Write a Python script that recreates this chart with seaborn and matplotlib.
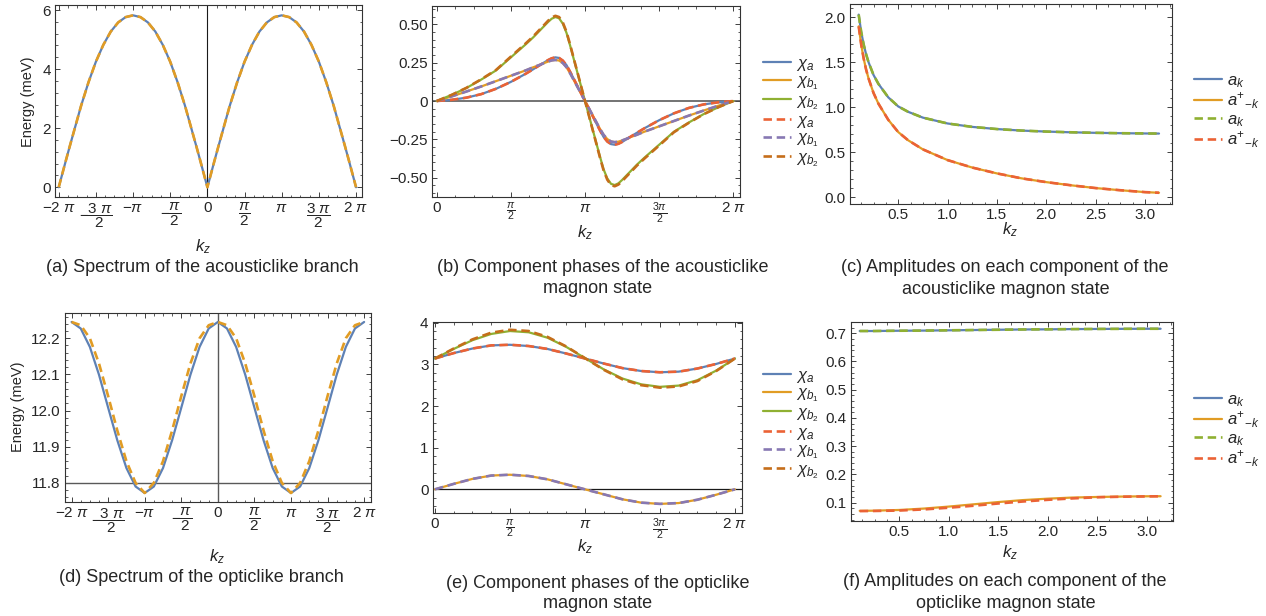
import numpy as np
import seaborn as sns
import matplotlib.pyplot as plt
from matplotlib.ticker import AutoMinorLocator

# ---------------- data ----------------
# (a) spectrum of the acousticlike branch, kz in units of pi
ka_pi = [-2.0, -1.95, -1.9, -1.85, -1.8, -1.7, -1.6, -1.5, -1.4, -1.3, -1.2, -1.1, -1.0,
         -0.9, -0.8, -0.7, -0.6, -0.5, -0.4, -0.3, -0.2, -0.15, -0.1, -0.05, 0.0,
         0.05, 0.1, 0.15, 0.2, 0.3, 0.4, 0.5, 0.6, 0.7, 0.8, 0.9, 1.0,
         1.1, 1.2, 1.3, 1.4, 1.5, 1.6, 1.7, 1.8, 1.85, 1.9, 1.95, 2.0]
E_acoustic = [0, 0.47, 0.94, 1.4, 1.85, 2.75, 3.55, 4.25, 4.82, 5.27, 5.58, 5.76, 5.82,
              5.76, 5.58, 5.27, 4.82, 4.25, 3.55, 2.75, 1.85, 1.4, 0.94, 0.47, 0,
              0.47, 0.94, 1.4, 1.85, 2.75, 3.55, 4.25, 4.82, 5.27, 5.58, 5.76, 5.82,
              5.76, 5.58, 5.27, 4.82, 4.25, 3.55, 2.75, 1.85, 1.4, 0.94, 0.47, 0]

# (b) component phases, acousticlike state
kb_pi = [0, 0.1, 0.2, 0.3, 0.4, 0.5, 0.6, 0.65, 0.7, 0.725, 0.75, 0.775, 0.8, 0.825, 0.85,
         0.875, 0.9, 0.925, 0.95, 0.975, 1.0,
         1.025, 1.05, 1.075, 1.1, 1.125, 1.15, 1.175, 1.2, 1.225, 1.25, 1.275, 1.3, 1.35,
         1.4, 1.5, 1.6, 1.7, 1.8, 1.9, 2.0]
chi_a_ac = [0, 0.008, 0.022, 0.045, 0.08, 0.125, 0.178, 0.207, 0.237, 0.252, 0.267, 0.279, 0.285, 0.281, 0.264,
            0.234, 0.19, 0.143, 0.095, 0.048, 0,
            -0.048, -0.095, -0.143, -0.19, -0.234, -0.264, -0.281, -0.285, -0.279, -0.267, -0.252, -0.237, -0.207,
            -0.178, -0.125, -0.08, -0.045, -0.022, -0.008, 0]
chi_b1_ac = [0, 0.03, 0.062, 0.095, 0.13, 0.165, 0.2, 0.22, 0.238, 0.248, 0.257, 0.265, 0.268, 0.264, 0.248,
             0.22, 0.18, 0.135, 0.09, 0.045, 0,
             -0.045, -0.09, -0.135, -0.18, -0.22, -0.248, -0.264, -0.268, -0.265, -0.257, -0.248, -0.238, -0.22,
             -0.2, -0.165, -0.13, -0.095, -0.062, -0.03, 0]
chi_b2_ac = [0, 0.04, 0.085, 0.14, 0.2, 0.285, 0.37, 0.415, 0.465, 0.49, 0.515, 0.537, 0.548, 0.54, 0.505,
             0.445, 0.36, 0.27, 0.18, 0.09, 0,
             -0.09, -0.18, -0.27, -0.36, -0.445, -0.505, -0.54, -0.548, -0.537, -0.515, -0.49, -0.465, -0.415,
             -0.37, -0.285, -0.2, -0.14, -0.085, -0.04, 0]
chi_b2_ac_dash = [0, 0.04, 0.086, 0.142, 0.203, 0.29, 0.376, 0.421, 0.472, 0.497, 0.523, 0.545, 0.556, 0.548, 0.513,
                  0.452, 0.366, 0.274, 0.183, 0.091, 0,
                  -0.091, -0.183, -0.274, -0.366, -0.452, -0.513, -0.548, -0.556, -0.545, -0.523, -0.497, -0.472, -0.421,
                  -0.376, -0.29, -0.203, -0.142, -0.086, -0.04, 0]

# (c) amplitudes, acousticlike state
kc = [0.1, 0.125, 0.15, 0.175, 0.2, 0.25, 0.3, 0.4, 0.5, 0.6, 0.75, 1.0, 1.25, 1.5,
      1.75, 2.0, 2.25, 2.5, 2.75, 3.0, 3.1416]
amp_a_ac = [2.03, 1.84, 1.70, 1.59, 1.5, 1.36, 1.26, 1.11, 1.01, 0.95, 0.885, 0.82, 0.782, 0.758,
            0.741, 0.73, 0.722, 0.716, 0.712, 0.709, 0.708]
amp_ad_ac = [1.9, 1.7, 1.545, 1.42, 1.32, 1.16, 1.04, 0.86, 0.725, 0.634, 0.532, 0.413, 0.33, 0.265,
             0.21, 0.168, 0.133, 0.102, 0.078, 0.057, 0.05]

# (d) spectrum of the opticlike branch
kd_pi = [-2.0, -1.875, -1.75, -1.625, -1.5, -1.375, -1.25, -1.125, -1.0, -0.875, -0.75, -0.625,
         -0.5, -0.375, -0.25, -0.125, 0.0, 0.125, 0.25, 0.375, 0.5, 0.625, 0.75, 0.875,
         1.0, 1.125, 1.25, 1.375, 1.5, 1.625, 1.75, 1.875, 2.0]
E_optic = [12.245, 12.227, 12.176, 12.099, 12.008, 11.918, 11.841, 11.79, 11.772, 11.79, 11.841, 11.918,
           12.008, 12.099, 12.176, 12.227, 12.245, 12.227, 12.176, 12.099, 12.008, 11.918, 11.841, 11.79,
           11.772, 11.79, 11.841, 11.918, 12.008, 12.099, 12.176, 12.227, 12.245]
E_optic_dash = [12.245, 12.236, 12.2, 12.13, 12.04, 11.945, 11.86, 11.8, 11.772, 11.8, 11.86, 11.945,
                12.04, 12.13, 12.2, 12.236, 12.245, 12.236, 12.2, 12.13, 12.04, 11.945, 11.86, 11.8,
                11.772, 11.8, 11.86, 11.945, 12.04, 12.13, 12.2, 12.236, 12.245]

# (e) component phases, opticlike state
ke_pi = [0, 0.125, 0.25, 0.375, 0.5, 0.625, 0.75, 0.875, 1.0, 1.125, 1.25, 1.375, 1.5, 1.625, 1.75, 1.875, 2.0]
chi_a_op = [3.14, 3.27, 3.38, 3.455, 3.47, 3.44, 3.37, 3.26, 3.14, 3.02, 2.91, 2.84, 2.81, 2.825, 2.9, 3.01, 3.14]
chi_b1_op = [0, 0.13, 0.25, 0.33, 0.35, 0.32, 0.24, 0.12, 0.0, -0.12, -0.24, -0.32, -0.35, -0.33, -0.25, -0.13, 0]
chi_b2_op = [3.14, 3.37, 3.58, 3.73, 3.8, 3.77, 3.64, 3.42, 3.15, 2.88, 2.66, 2.52, 2.46, 2.49, 2.62, 2.85, 3.14]
chi_b2_op_dash = [3.14, 3.38, 3.6, 3.76, 3.83, 3.8, 3.66, 3.43, 3.15, 2.87, 2.64, 2.5, 2.44, 2.47, 2.6, 2.84, 3.14]

# (f) amplitudes, opticlike state
kf = [0.1, 0.25, 0.5, 0.75, 1.0, 1.25, 1.5, 1.75, 2.0, 2.25, 2.5, 2.75, 3.0, 3.1416]
amp_a_op = [0.708, 0.708, 0.709, 0.7095, 0.7105, 0.7115, 0.7125, 0.7135, 0.714, 0.7148, 0.7153, 0.7157, 0.716, 0.716]
amp_ad_op = [0.071, 0.0715, 0.074, 0.079, 0.086, 0.094, 0.102, 0.109, 0.114, 0.118, 0.12, 0.1215, 0.1225, 0.1227]
amp_ad_op_dash = [0.07, 0.0705, 0.072, 0.076, 0.082, 0.089, 0.097, 0.104, 0.11, 0.115, 0.119, 0.121, 0.122, 0.1225]

# ---------------- style ----------------
sns.set_theme(style='ticks')
plt.rcParams['font.family'] = ['Liberation Sans', 'DejaVu Sans']
plt.rcParams['mathtext.fontset'] = 'custom'
plt.rcParams['mathtext.rm'] = 'Liberation Sans'
plt.rcParams['mathtext.it'] = 'Liberation Sans:italic'
plt.rcParams['mathtext.bf'] = 'Liberation Sans:bold'
plt.rcParams['axes.unicode_minus'] = True

BLUE, ORANGE, GREEN = '#5E81B5', '#E19C24', '#8FB032'
RED, PURPLE, BROWN = '#EB6235', '#8778B3', '#C56E1A'
DASH = (0, (3.2, 1.8))

W, H = 1266, 616
fig = plt.figure(figsize=(W / 100, H / 100), dpi=100)


def px_axes(l, r, t, b):
    return fig.add_axes([l / W, 1 - b / H, (r - l) / W, (b - t) / H])


def ftext(x, y, s, **kw):
    kw.setdefault('fontsize', 13)
    fig.text(x / W, 1 - y / H, s, ha='center', va='center', **kw)


def curve(ax, x, y, color, dashed=False, label=None):
    sns.lineplot(x=x, y=y, ax=ax, color=color, lw=1.9 if dashed else 1.6,
                 linestyle=DASH if dashed else '-', label=label,
                 estimator=None, sort=False)


def frame(ax):
    for s in ax.spines.values():
        s.set_color('0.2')
        s.set_linewidth(0.8)
    ax.xaxis.set_minor_locator(AutoMinorLocator(4))
    ax.yaxis.set_minor_locator(AutoMinorLocator(5))
    ax.tick_params(which='both', direction='in', top=True, right=True, color='0.25',
                   labelsize=11, pad=3)
    ax.tick_params(which='major', length=3.5, width=0.7)
    ax.tick_params(which='minor', length=1.8, width=0.6)


def legend(ax, x, y, handles_labels):
    h = ax.get_lines()
    ax.legend([h[i] for i in handles_labels[0]], handles_labels[1], loc='upper left',
              bbox_to_anchor=(x / W, 1 - y / H), bbox_transform=fig.transFigure,
              frameon=False, handlelength=1.7, handletextpad=0.3, labelspacing=0.05,
              borderpad=0, borderaxespad=0, fontsize=12)


pi_big = [r'$-2\ \pi$', r'$-\dfrac{3\ \pi}{2}$', r'$-\pi$', r'$-\dfrac{\pi}{2}$', '0',
          r'$\dfrac{\pi}{2}$', r'$\pi$', r'$\dfrac{3\ \pi}{2}$', r'$2\ \pi$']
pi_small = ['0', r'$\frac{\pi}{2}$', r'$\pi$', r'$\frac{3\pi}{2}$', r'$2\ \pi$']
chi_labels = [r'$\chi_a$', r'$\chi_{b_1}$', r'$\chi_{b_2}$', r'$\chi_a$', r'$\chi_{b_1}$', r'$\chi_{b_2}$']
amp_labels = [r'$a_k$', r'$a^{+}{}_{-k}$', r'$a_k$', r'$a^{+}{}_{-k}$']
pi = np.pi

# ---------------- (a) ----------------
ax = px_axes(55, 362, 5, 197)
ka = np.array(ka_pi) * pi
ax.axvline(0, color='0.1', lw=0.8)
curve(ax, ka, E_acoustic, BLUE)
curve(ax, ka, E_acoustic, ORANGE, dashed=True)
ax.set_xlim(-2.05 * pi, 2.08 * pi)
ax.set_ylim(-0.33, 6.17)
ax.set_xticks(np.arange(-2, 2.01, 0.5) * pi, pi_big)
ax.set_yticks([0, 2, 4, 6])
frame(ax)

# ---------------- (b) ----------------
ax = px_axes(431.7, 740, 6, 197)
kb = np.array(kb_pi) * pi
ax.axhline(0, color='0.3', lw=1.1)
curve(ax, kb, chi_a_ac, BLUE, label='a')
curve(ax, kb, chi_b1_ac, ORANGE, label='b1')
curve(ax, kb, chi_b2_ac, GREEN, label='b2')
curve(ax, kb, chi_a_ac, RED, dashed=True, label='a2')
curve(ax, kb, chi_b1_ac, PURPLE, dashed=True, label='b12')
curve(ax, kb, chi_b2_ac_dash, BROWN, dashed=True, label='b22')
ax.set_xlim(-0.034 * pi, 2.045 * pi)
ax.set_ylim(-0.626, 0.62)
ax.set_xticks(np.arange(0, 2.01, 0.5) * pi, pi_small)
ax.set_yticks([-0.5, -0.25, 0, 0.25, 0.5], ['\u22120.50', '\u22120.25', '0', '0.25', '0.50'])
frame(ax)
legend(ax, 762.5, 56, (list(range(1, 7)), chi_labels))

# ---------------- (c) ----------------
ax = px_axes(850, 1171.7, 4, 204)
curve(ax, kc, amp_a_ac, BLUE, label='a')
curve(ax, kc, amp_ad_ac, ORANGE, label='ad')
curve(ax, kc, amp_a_ac, GREEN, dashed=True, label='a2')
curve(ax, kc, amp_ad_ac, RED, dashed=True, label='ad2')
ax.set_xlim(0.012, 3.27)
ax.set_ylim(-0.075, 2.148)
ax.set_xticks([0.5, 1.0, 1.5, 2.0, 2.5, 3.0])
ax.set_yticks([0, 0.5, 1.0, 1.5, 2.0], ['0.0', '0.5', '1.0', '1.5', '2.0'])
frame(ax)
legend(ax, 1194, 73, (list(range(0, 4)), amp_labels))

# ---------------- (d) ----------------
ax = px_axes(65, 370.7, 313.3, 501.7)
kd = np.array(kd_pi) * pi
ax.axvline(0, color='0.35', lw=1.0)
ax.axhline(11.8, color='0.35', lw=1.0)
curve(ax, kd, E_optic, BLUE)
curve(ax, kd, E_optic_dash, ORANGE, dashed=True)
ax.set_xlim(-2.09 * pi, 2.09 * pi)
ax.set_ylim(11.748, 12.269)
ax.set_xticks(np.arange(-2, 2.01, 0.5) * pi, pi_big)
ax.set_yticks([11.8, 11.9, 12.0, 12.1, 12.2])
frame(ax)

# ---------------- (e) ----------------
ax = px_axes(432.7, 741.7, 321.7, 513.3)
ke = np.array(ke_pi) * pi
ax.axhline(0, color='0.1', lw=0.9)
curve(ax, ke, chi_a_op, BLUE, label='a')
curve(ax, ke, chi_b1_op, ORANGE, label='b1')
curve(ax, ke, chi_b2_op, GREEN, label='b2')
curve(ax, ke, chi_a_op, RED, dashed=True, label='a2')
curve(ax, ke, chi_b1_op, PURPLE, dashed=True, label='b12')
curve(ax, ke, chi_b2_op_dash, BROWN, dashed=True, label='b22')
ax.set_xlim(-0.015 * pi, 2.045 * pi)
ax.set_ylim(-0.576, 4.024)
ax.set_xticks(np.arange(0, 2.01, 0.5) * pi, pi_small)
ax.set_yticks([0, 1, 2, 3, 4])
frame(ax)
legend(ax, 762.5, 368, (list(range(1, 7)), chi_labels))

# ---------------- (f) ----------------
ax = px_axes(851, 1173.3, 321.7, 520.7)
curve(ax, kf, amp_a_op, BLUE, label='a')
curve(ax, kf, amp_ad_op, ORANGE, label='ad')
curve(ax, kf, amp_a_op, GREEN, dashed=True, label='a2')
curve(ax, kf, amp_ad_op_dash, RED, dashed=True, label='ad2')
ax.set_xlim(0.012, 3.27)
ax.set_ylim(0.036, 0.741)
ax.set_xticks([0.5, 1.0, 1.5, 2.0, 2.5, 3.0])
ax.set_yticks([0.1, 0.2, 0.3, 0.4, 0.5, 0.6, 0.7])
frame(ax)
legend(ax, 1194, 392, (list(range(0, 4)), amp_labels))

# ---------------- labels & captions ----------------
for x, y in [(203, 247), (585, 233), (1010, 230), (217, 557), (585, 547), (1010, 553)]:
    ftext(x, y, r'$k_z$', fontsize=12)
ftext(28, 102, 'Energy (meV)', rotation=90, fontsize=10.5)
ftext(18.5, 407, 'Energy (meV)', rotation=90, fontsize=10.5)

ftext(202, 267, '(a) Spectrum of the acousticlike branch')
ftext(603, 267, '(b) Component phases of the acousticlike')
ftext(598, 288.5, 'magnon state')
ftext(1005, 267, '(c) Amplitudes on each component of the')
ftext(1006, 290, 'acousticlike magnon state')
ftext(201, 577, '(d) Spectrum of the opticlike branch')
ftext(598, 584, '(e) Component phases of the opticlike')
ftext(598, 604, 'magnon state')
ftext(1005, 582, '(f) Amplitudes on each component of the')
ftext(1006, 604, 'opticlike magnon state')

fig.savefig('out.png', dpi=100)
